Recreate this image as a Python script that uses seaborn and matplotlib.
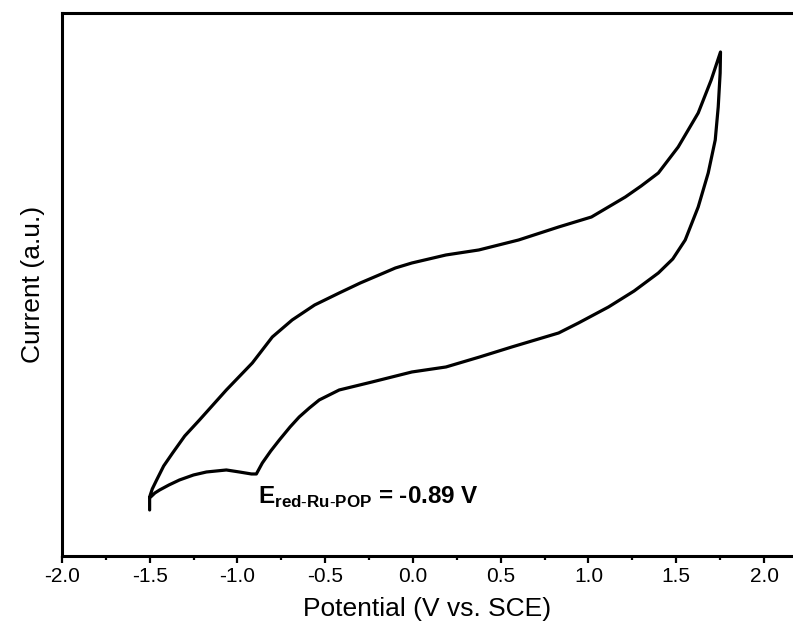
import matplotlib
matplotlib.use("Agg")
import matplotlib.pyplot as plt
from matplotlib.ticker import MultipleLocator
import seaborn as sns
import pandas as pd

# forward scan, -1.5 V -> vertex
fwd_v = [-1.50, -1.50, -1.470, -1.443, -1.390, -1.330, -1.250, -1.176, -1.063, -0.989,
         -0.920, -0.892, -0.858, -0.810, -0.761, -0.700, -0.648, -0.590, -0.534, -0.420,
         -0.233, -0.006, 0.188, 0.380, 0.563, 0.830, 0.943, 1.114, 1.260,
         1.398, 1.480, 1.551, 1.625, 1.682, 1.722, 1.739, 1.750, 1.752]
fwd_i = [0.46, 0.58, 0.63, 0.66, 0.71, 0.76, 0.81, 0.84, 0.86, 0.84,
         0.82, 0.82, 0.93, 1.05, 1.16, 1.29, 1.39, 1.48, 1.56, 1.66,
         1.74, 1.84, 1.89, 1.99, 2.09, 2.23, 2.33, 2.49, 2.65,
         2.83, 2.97, 3.16, 3.49, 3.83, 4.16, 4.49, 4.83, 5.04]
# reverse scan, vertex -> -1.5 V
rev_v = [1.699, 1.625, 1.511, 1.398, 1.300, 1.210, 1.017, 0.830, 0.602, 0.375, 0.188,
         -0.006, -0.100, -0.193, -0.300, -0.420, -0.560, -0.688, -0.801, -0.915, -1.063,
         -1.216, -1.300, -1.369, -1.420, -1.460, -1.485, -1.500]
rev_i = [4.76, 4.43, 4.09, 3.83, 3.70, 3.59, 3.39, 3.29, 3.16, 3.06, 3.01,
         2.93, 2.88, 2.81, 2.73, 2.63, 2.51, 2.36, 2.19, 1.93, 1.66,
         1.36, 1.20, 1.03, 0.90, 0.76, 0.67, 0.59]

x_ticks = [-2.0, -1.5, -1.0, -0.5, 0.0, 0.5, 1.0, 1.5, 2.0]
label_text = r"$\mathbf{E}_{\mathbf{red}\text{-}\mathbf{Ru}\text{-}\mathbf{POP}}$ = -0.89 V"

df = pd.DataFrame({"V": fwd_v + rev_v, "I": fwd_i + rev_i})

sns.set_style("ticks")
plt.rcParams["font.family"] = ["Liberation Sans", "DejaVu Sans"]
plt.rcParams["mathtext.fontset"] = "custom"
plt.rcParams["mathtext.rm"] = "Liberation Sans"
plt.rcParams["mathtext.bf"] = "Liberation Sans:bold"
plt.rcParams.update({"text.color": "black", "axes.labelcolor": "black",
                     "xtick.color": "black", "axes.edgecolor": "black"})

fig = plt.figure(figsize=(7.93, 6.30), dpi=100)
ax = fig.add_axes([0.078, 0.1175, 0.922, 0.8619])

sns.lineplot(data=df, x="V", y="I", sort=False, estimator=None, color="black",
             linewidth=2.3, ax=ax)

ax.set_xlim(-2.0, 2.165)
ax.set_ylim(0, 5.43)
ax.set_xticks(x_ticks)
ax.set_xticklabels([f"{t:.1f}" for t in x_ticks])
ax.xaxis.set_minor_locator(MultipleLocator(0.25))
ax.set_yticks([])
ax.tick_params(axis="x", which="major", direction="out", length=5, width=1.6,
               labelsize=15, pad=3, colors="black")
ax.tick_params(axis="x", which="minor", direction="out", length=3, width=1.6,
               colors="black")
for side in ["left", "bottom", "top"]:
    ax.spines[side].set_linewidth(2.2)
    ax.spines[side].set_color("black")
ax.spines["right"].set_visible(False)

ax.set_xlabel("Potential (V vs. SCE)", fontsize=19, labelpad=8)
ax.set_ylabel("Current (a.u.)", fontsize=19, labelpad=12)

ax.text(-0.89 + 0.01, 0.52, label_text, fontsize=17.5, fontweight="bold",
        ha="left", va="baseline")

fig.savefig("out.png", dpi=100)
